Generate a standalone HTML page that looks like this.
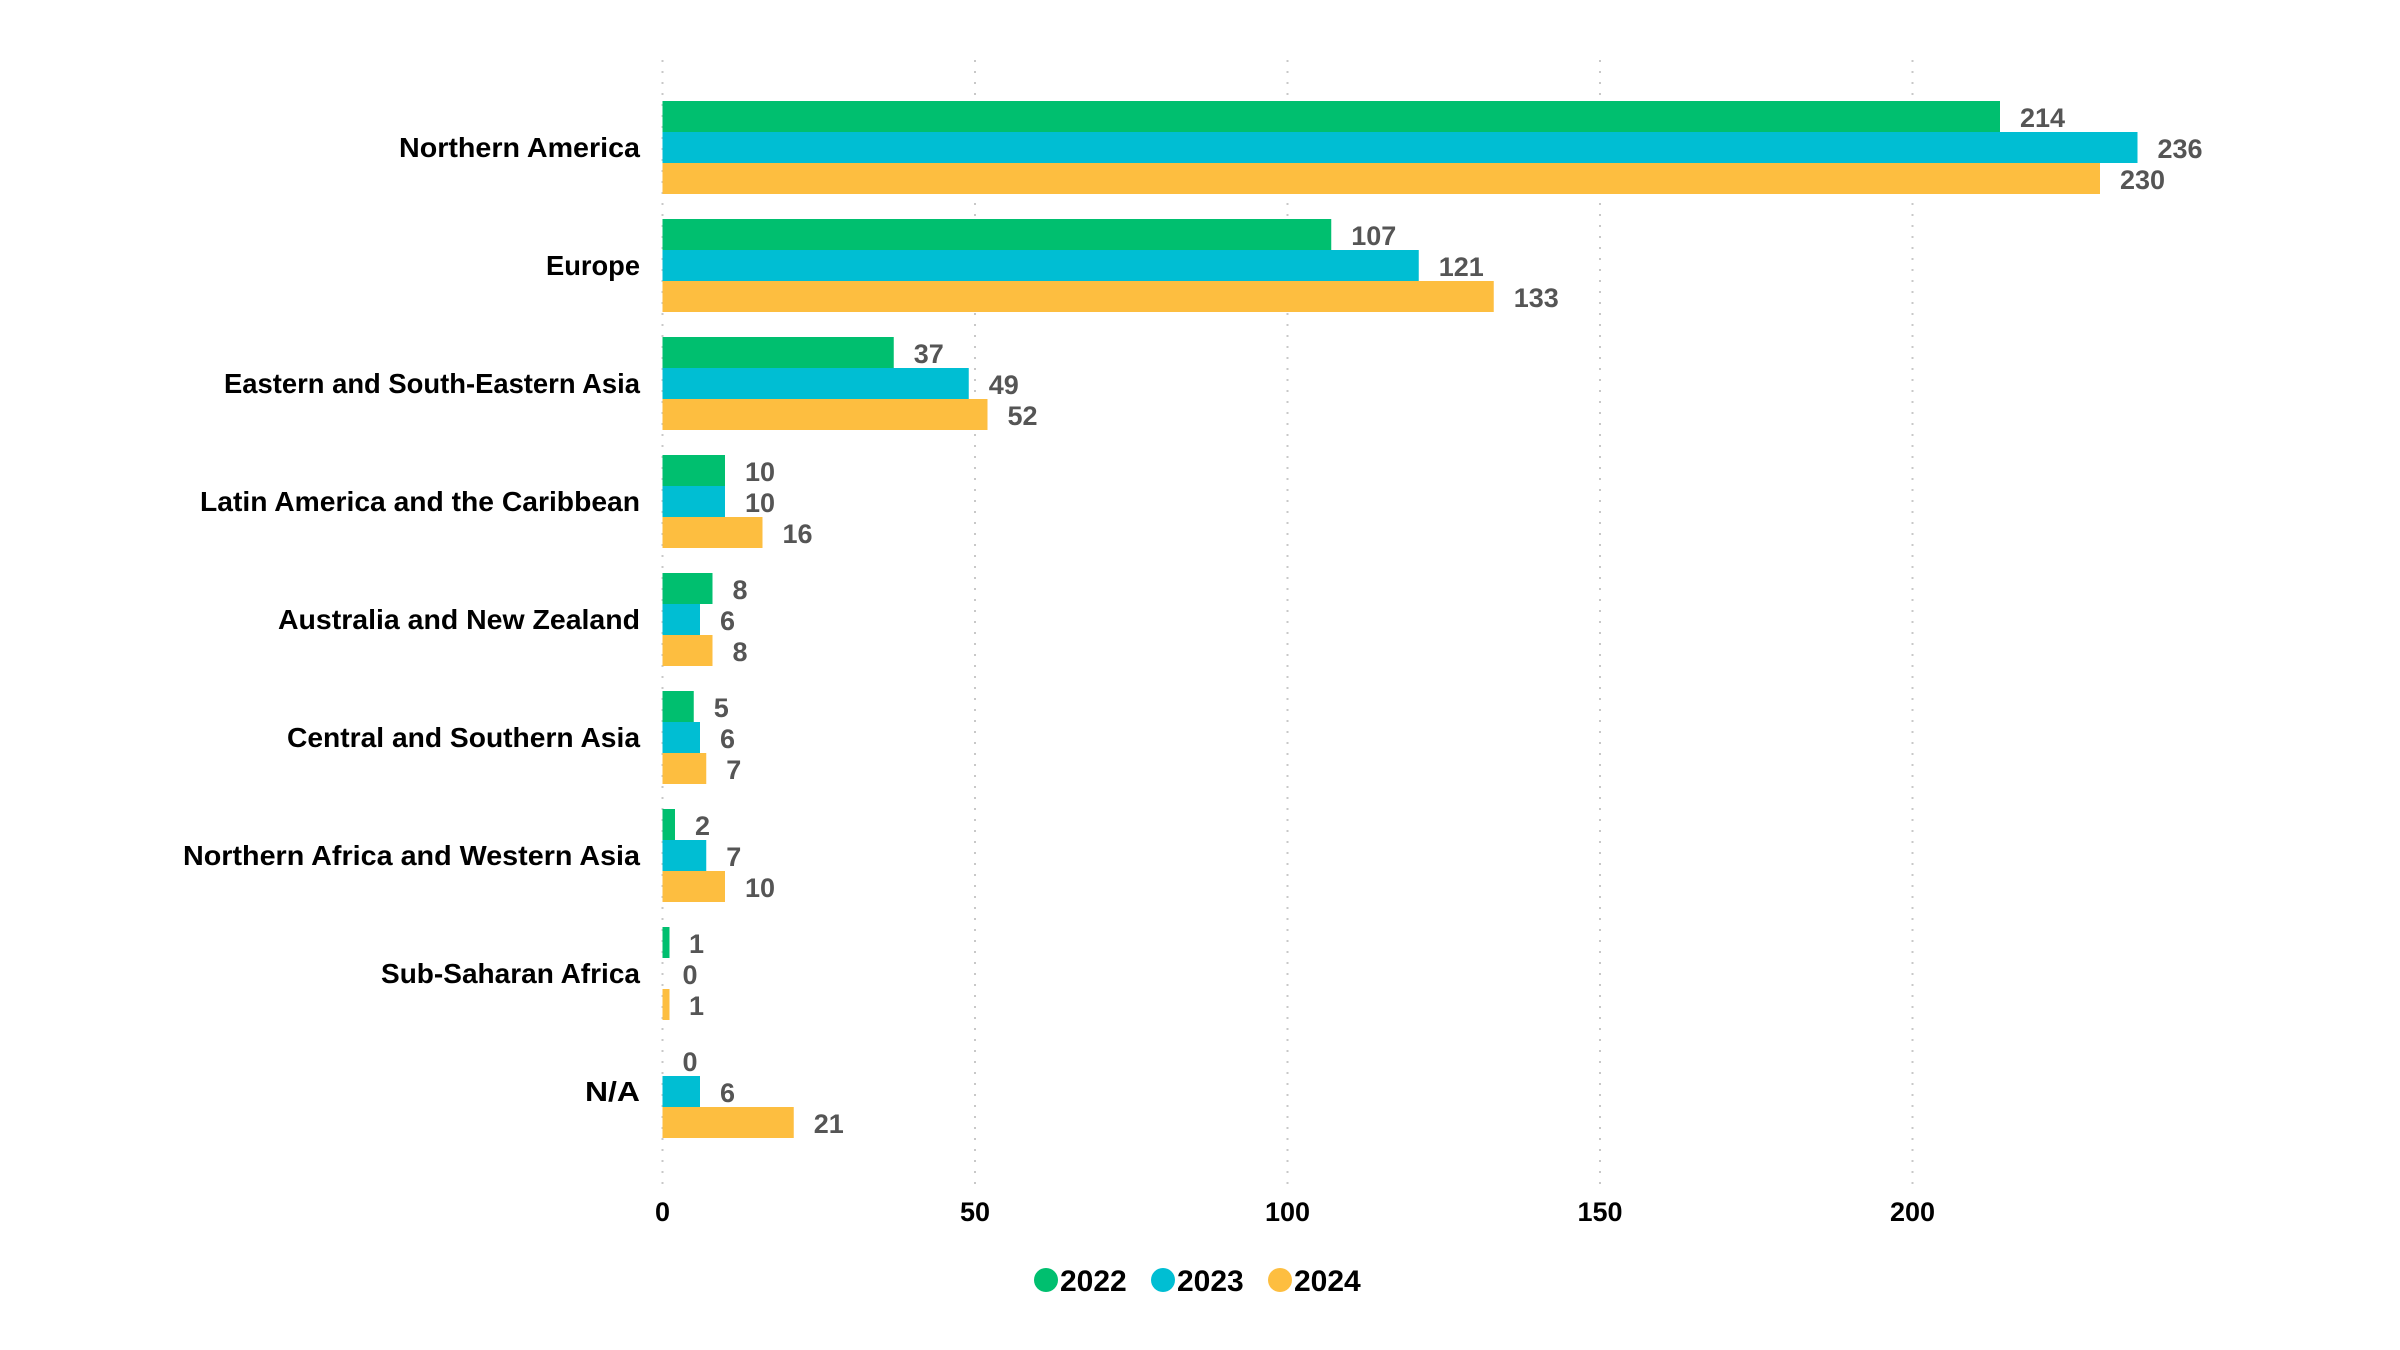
<!DOCTYPE html>
<html><head><meta charset="utf-8"><style>
html,body{margin:0;padding:0;background:#fff;}
svg{display:block;}
text{font-family:"Liberation Sans",sans-serif;font-weight:bold;}
</style></head><body>
<svg width="2400" height="1350" viewBox="0 0 2400 1350" xmlns="http://www.w3.org/2000/svg">
<g stroke="#c8c8c8" stroke-width="2" stroke-dasharray="2,9">
<line x1="662.5" y1="60" x2="662.5" y2="1185"/>
<line x1="975" y1="60" x2="975" y2="1185"/>
<line x1="1287.5" y1="60" x2="1287.5" y2="1185"/>
<line x1="1600" y1="60" x2="1600" y2="1185"/>
<line x1="1912.5" y1="60" x2="1912.5" y2="1185"/>
</g>
<g font-size="28" text-anchor="end" fill="#000" lengthAdjust="spacingAndGlyphs">
<text x="640" y="157" textLength="241" lengthAdjust="spacingAndGlyphs">Northern America</text>
<text x="640" y="275" textLength="94" lengthAdjust="spacingAndGlyphs">Europe</text>
<text x="640" y="393" textLength="416" lengthAdjust="spacingAndGlyphs">Eastern and South-Eastern Asia</text>
<text x="640" y="511" textLength="440" lengthAdjust="spacingAndGlyphs">Latin America and the Caribbean</text>
<text x="640" y="629" textLength="362" lengthAdjust="spacingAndGlyphs">Australia and New Zealand</text>
<text x="640" y="747" textLength="353" lengthAdjust="spacingAndGlyphs">Central and Southern Asia</text>
<text x="640" y="865" textLength="457" lengthAdjust="spacingAndGlyphs">Northern Africa and Western Asia</text>
<text x="640" y="983" textLength="259" lengthAdjust="spacingAndGlyphs">Sub-Saharan Africa</text>
<text x="640" y="1101" textLength="55" lengthAdjust="spacingAndGlyphs">N/A</text>
</g>
<g>
<rect x="662.5" y="101" width="1337.5" height="31" fill="#00BF6F"/>
<rect x="662.5" y="132" width="1475" height="31" fill="#00BED3"/>
<rect x="662.5" y="163" width="1437.5" height="31" fill="#FDBE40"/>
<rect x="662.5" y="219" width="668.75" height="31" fill="#00BF6F"/>
<rect x="662.5" y="250" width="756.25" height="31" fill="#00BED3"/>
<rect x="662.5" y="281" width="831.25" height="31" fill="#FDBE40"/>
<rect x="662.5" y="337" width="231.25" height="31" fill="#00BF6F"/>
<rect x="662.5" y="368" width="306.25" height="31" fill="#00BED3"/>
<rect x="662.5" y="399" width="325" height="31" fill="#FDBE40"/>
<rect x="662.5" y="455" width="62.5" height="31" fill="#00BF6F"/>
<rect x="662.5" y="486" width="62.5" height="31" fill="#00BED3"/>
<rect x="662.5" y="517" width="100" height="31" fill="#FDBE40"/>
<rect x="662.5" y="573" width="50" height="31" fill="#00BF6F"/>
<rect x="662.5" y="604" width="37.5" height="31" fill="#00BED3"/>
<rect x="662.5" y="635" width="50" height="31" fill="#FDBE40"/>
<rect x="662.5" y="691" width="31.25" height="31" fill="#00BF6F"/>
<rect x="662.5" y="722" width="37.5" height="31" fill="#00BED3"/>
<rect x="662.5" y="753" width="43.75" height="31" fill="#FDBE40"/>
<rect x="662.5" y="809" width="12.5" height="31" fill="#00BF6F"/>
<rect x="662.5" y="840" width="43.75" height="31" fill="#00BED3"/>
<rect x="662.5" y="871" width="62.5" height="31" fill="#FDBE40"/>
<rect x="662.5" y="927" width="7" height="31" fill="#00BF6F"/>
<rect x="662.5" y="989" width="7" height="31" fill="#FDBE40"/>
<rect x="662.5" y="1076" width="37.5" height="31" fill="#00BED3"/>
<rect x="662.5" y="1107" width="131.25" height="31" fill="#FDBE40"/>
</g>
<g font-size="27" fill="#555">
<text x="2020" y="127">214</text>
<text x="2157.5" y="158">236</text>
<text x="2120" y="189">230</text>
<text x="1351.25" y="245">107</text>
<text x="1438.75" y="276">121</text>
<text x="1513.75" y="307">133</text>
<text x="913.75" y="363">37</text>
<text x="988.75" y="394">49</text>
<text x="1007.5" y="425">52</text>
<text x="745" y="481">10</text>
<text x="745" y="512">10</text>
<text x="782.5" y="543">16</text>
<text x="732.5" y="599">8</text>
<text x="720" y="630">6</text>
<text x="732.5" y="661">8</text>
<text x="713.75" y="717">5</text>
<text x="720" y="748">6</text>
<text x="726.25" y="779">7</text>
<text x="695" y="835">2</text>
<text x="726.25" y="866">7</text>
<text x="745" y="897">10</text>
<text x="689" y="953">1</text>
<text x="682.5" y="984">0</text>
<text x="689" y="1015">1</text>
<text x="682.5" y="1071">0</text>
<text x="720" y="1102">6</text>
<text x="813.75" y="1133">21</text>
</g>
<g font-size="27" fill="#000" text-anchor="middle">
<text x="662.5" y="1221">0</text>
<text x="975" y="1221">50</text>
<text x="1287.5" y="1221">100</text>
<text x="1600" y="1221">150</text>
<text x="1912.5" y="1221">200</text>
</g>
<g font-size="30">
<circle cx="1046" cy="1280" r="12" fill="#00BF6F"/><text x="1060" y="1291">2022</text>
<circle cx="1163" cy="1280" r="12" fill="#00BED3"/><text x="1177" y="1291">2023</text>
<circle cx="1280" cy="1280" r="12" fill="#FDBE40"/><text x="1294" y="1291">2024</text>
</g>
</svg>
</body></html>
